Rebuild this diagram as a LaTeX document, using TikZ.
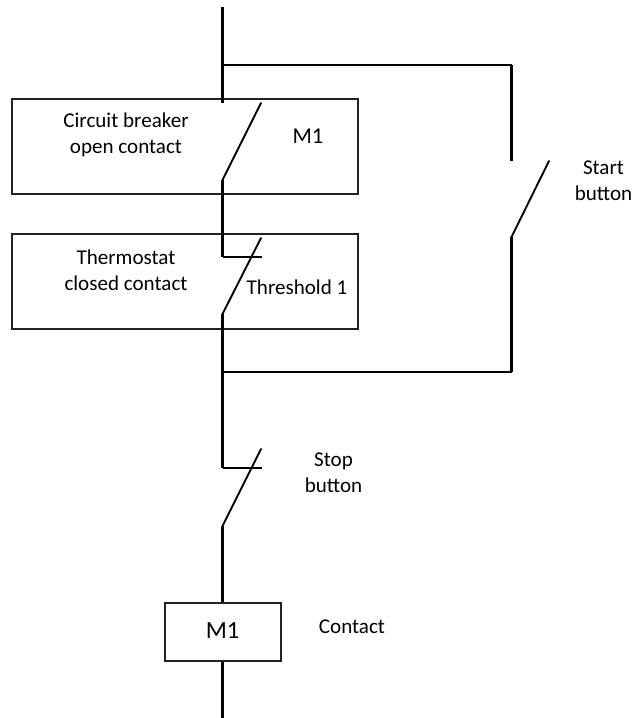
\documentclass[tikz,border=0pt]{standalone}
\usepackage{fontspec}
\setmainfont{Carlito}
\usepackage{xcolor}
\definecolor{ink}{HTML}{000000}
\definecolor{frame}{HTML}{222222}
\tikzset{
  rail/.style={draw=ink, line width=2.4pt},
  wire/.style={draw=ink, line width=1.6pt},
  blade/.style={draw=ink, line width=1.4pt, line cap=round},
  panel/.style={draw=frame, line width=1.5pt, inner sep=0pt},
  lab/.style={text=ink, font=\fontsize{15.8}{19.5}\selectfont, align=center, inner sep=0pt},
  labb/.style={text=ink, font=\fontsize{17}{20}\selectfont, inner sep=0pt},
  labc/.style={text=ink, font=\fontsize{18.5}{20}\selectfont, inner sep=0pt},
}
\begin{document}
\begin{tikzpicture}[x=0.75pt,y=-0.75pt]
  \useasboundingbox (0,0) rectangle (636,718);

  % boxes first, the rails go over them
  \node[panel,minimum width=259.5pt,minimum height=71.25pt] (breakerbox) at (184.75,146) {};
  \node[panel,minimum width=259.5pt,minimum height=71.25pt] (thermobox) at (184.75,281) {};
  \node[panel,minimum width=87pt,minimum height=43.5pt] (coil) at (222.5,631.5) {};
  \node[labc] (coilname) at (222.7,630.5) {M1};

  \coordinate (top) at (222.5,7);
  \coordinate (tap) at (222.5,65);
  \coordinate (corner) at (511.5,65);
  \coordinate (startT) at (511.5,161);
  \coordinate (startB) at (511.5,237);
  \coordinate (startE) at (549,161);
  \coordinate (backR) at (511.5,372);
  \coordinate (backL) at (222.5,372);
  \coordinate (breakT) at (222.5,103);
  \coordinate (breakB) at (222.5,180);
  \coordinate (breakE) at (261,103);
  \coordinate (thermoH) at (222.5,257);
  \coordinate (thermoHE) at (262,257);
  \coordinate (thermoB) at (222.5,314);
  \coordinate (thermoE) at (261,238);
  \coordinate (stopH) at (222.5,468);
  \coordinate (stopHE) at (262,468);
  \coordinate (stopB) at (222.5,526);
  \coordinate (stopE) at (261,449);
  \coordinate (bottom) at (222.5,718);

  \draw[rail] (top)--(breakT);
  \draw[rail] (breakB)--(thermoH);
  \draw[rail] (thermoB)--(stopH);
  \draw[rail] (stopB)--(coil.north);
  \draw[rail] (coil.south)--(bottom);
  \draw[rail] (corner)--(startT);
  \draw[rail] (startB)--(backR);

  \draw[wire] (tap)--(corner);
  \draw[wire] (backR)--(backL);
  \draw[wire] (thermoH)--(thermoHE);
  \draw[wire] (stopH)--(stopHE);

  \draw[blade] (breakB)--(breakE);
  \draw[blade] (thermoB)--(thermoE);
  \draw[blade] (stopB)--(stopE);
  \draw[blade] (startB)--(startE);

  \node[lab] (breakerlab) at (126,135) {Circuit breaker\\open contact};
  \node[labb] (breakername) at (308,136) {M1};
  \node[lab] (thermolab) at (126,270) {Thermostat\\closed contact};
  \node[lab] (thresholdlab) at (297,287) {Threshold 1};
  \node[lab] (startlab) at (603.5,181) {Start\\button};
  \node[lab] (stoplab) at (333.5,473) {Stop\\button};
  \node[lab] (contactlab) at (352,627) {Contact};
\end{tikzpicture}
\end{document}
